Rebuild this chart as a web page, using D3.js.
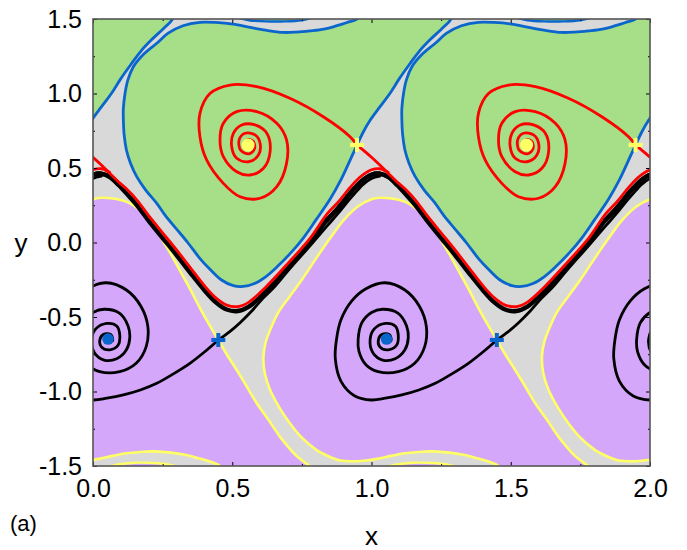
<!DOCTYPE html>
<html>
<head>
<meta charset="utf-8">
<script src="https://cdn.jsdelivr.net/npm/d3@7"></script>
<style>
body { margin: 0; background: #fff; }
text { font-family: "Liberation Sans", Arial, sans-serif; }
</style>
</head>
<body>
<div id="chart"></div>
<script>
// one period of the phase portrait (x is periodic with period 1)
var periods = [-1, 0, 1, 2];

var xTicks = [0, 0.5, 1, 1.5, 2];
var xMinor = [0.25, 0.75, 1.25, 1.75];
var yTicks = [-1.5, -1, -0.5, 0, 0.5, 1, 1.5];
var yMinor = [-1.25, -0.75, -0.25, 0.25, 0.75, 1.25];

// blue separatrix bounding the green basin
var blueEdge = [[0.955,1.52],[0.948,1.5],[0.91,1.475],[0.876,1.455],[0.83,1.432],[0.779,1.42],[0.73,1.412],
  [0.682,1.41],[0.62,1.425],[0.564,1.444],[0.503,1.466],[0.44,1.477],[0.384,1.478],[0.323,1.455],
  [0.27,1.405],[0.229,1.337],[0.18,1.26],[0.145,1.18],[0.125,1.09],[0.115,1.0],[0.109,0.9],[0.109,0.822],
  [0.112,0.72],[0.12,0.621],[0.135,0.53],[0.157,0.442],[0.19,0.35],[0.229,0.263],[0.26,0.18],[0.30,0.09],
  [0.34,0.0],[0.385,-0.11],[0.42,-0.18],[0.46,-0.25],[0.504,-0.29],[0.54,-0.295],[0.58,-0.275],[0.62,-0.23],
  [0.66,-0.165],[0.71,-0.07],[0.755,0.03],[0.80,0.15],[0.851,0.29],[0.89,0.42],[0.92,0.54],[0.948,0.654],
  [0.97,0.74],[0.995,0.82],[1.03,0.91],[1.066,1.0],[1.10,1.1],[1.138,1.2],[1.17,1.28],[1.21,1.36],
  [1.25,1.43],[1.282,1.49],[1.29,1.52]];
var blueLens = [[0.52,1.51],[0.56,1.492],[0.62,1.484],[0.69,1.484],[0.75,1.492],[0.79,1.51]];

// yellow separatrix bounding the purple basin
var yellowEdge = [[0.46,-1.52],[0.455,-1.5],[0.42,-1.47],[0.383,-1.45],[0.33,-1.425],[0.28,-1.41],
  [0.22,-1.402],[0.18,-1.404],[0.12,-1.415],[0.07,-1.432],[0.02,-1.452],[-0.03,-1.465],[-0.08,-1.468],
  [-0.12,-1.46],[-0.16,-1.43],[-0.197,-1.393],[-0.25,-1.31],[-0.293,-1.213],[-0.33,-1.11],[-0.364,-0.99],
  [-0.383,-0.88],[-0.388,-0.766],[-0.38,-0.67],[-0.364,-0.587],[-0.335,-0.47],[-0.293,-0.36],[-0.25,-0.25],
  [-0.20,-0.11],[-0.152,0.02],[-0.10,0.15],[-0.05,0.24],[0.0,0.29],[0.03,0.30],[0.065,0.297],[0.10,0.285],
  [0.133,0.263],[0.17,0.215],[0.205,0.151],[0.23,0.08],[0.255,0.0],[0.28,-0.08],[0.31,-0.18],[0.345,-0.30],
  [0.384,-0.44],[0.42,-0.56],[0.45,-0.654],[0.48,-0.75],[0.516,-0.856],[0.55,-0.96],[0.588,-1.079],
  [0.63,-1.19],[0.671,-1.303],[0.70,-1.37],[0.735,-1.44],[0.778,-1.5],[0.79,-1.52]];
var yellowLens = [[0.05,-1.51],[0.09,-1.49],[0.15,-1.478],[0.22,-1.48],[0.27,-1.49],[0.31,-1.51]];

// black rotating band and the black separatrix joining it
var blackBand = [[-0.16,0.15],[-0.12,0.23],[-0.09,0.30],[-0.06,0.365],[-0.03,0.42],[0.0,0.455],[0.03,0.462],
  [0.06,0.44],[0.09,0.39],[0.12,0.33],[0.16,0.245],[0.20,0.145],[0.25,0.03],[0.30,-0.085],[0.35,-0.205],
  [0.40,-0.32],[0.44,-0.40],[0.48,-0.45],[0.52,-0.46],[0.56,-0.43],[0.62,-0.33],[0.70,-0.17],[0.78,0.0],
  [0.84,0.15],[0.88,0.23],[0.91,0.30],[0.94,0.365],[0.97,0.42],[1.0,0.455],[1.03,0.462],[1.06,0.44],[1.09,0.39]];
var blackOut = [[0.45,-0.654],[0.49,-0.60],[0.53,-0.535],[0.57,-0.46],[0.61,-0.375],[0.65,-0.30],[0.70,-0.19],
  [0.78,-0.02],[0.84,0.11],[0.88,0.195],[0.91,0.265],[0.94,0.33],[0.97,0.39],[1.0,0.43],[1.03,0.445]];
var blackSpiral = [[0.45,-0.654],[0.40,-0.735],[0.348,-0.811],[0.29,-0.88],[0.229,-0.945],[0.17,-0.99],
  [0.109,-1.023],[0.05,-1.045],[0.0,-1.057],[-0.06,-1.03],[-0.11,-0.93],[-0.13,-0.78],[-0.126,-0.654],
  [-0.11,-0.52],[-0.07,-0.39],[-0.02,-0.31],[0.048,-0.27],[0.12,-0.319],[0.173,-0.431],[0.197,-0.565],
  [0.191,-0.699],[0.155,-0.811],[0.096,-0.867],[0.024,-0.867],[-0.02,-0.82],[-0.045,-0.73],[-0.048,-0.65],
  [-0.035,-0.54],[0.0,-0.47],[0.04,-0.448],[0.096,-0.475],[0.126,-0.56],[0.132,-0.64],[0.12,-0.72],
  [0.085,-0.78],[0.04,-0.789],[0.005,-0.74],[-0.005,-0.65],[0.01,-0.58],[0.05,-0.543],[0.085,-0.56],
  [0.096,-0.62],[0.09,-0.69],[0.06,-0.72],[0.03,-0.70],[0.025,-0.65],[0.04,-0.615],[0.065,-0.62],
  [0.07,-0.66],[0.054,-0.648]];

// red spiral and red separatrix
var redSpiral = [[0.948,0.654],[0.923,0.71],[0.827,0.844],[0.707,0.968],[0.588,1.046],[0.492,1.057],
  [0.42,1.0],[0.384,0.867],[0.384,0.71],[0.408,0.554],[0.468,0.397],[0.528,0.307],[0.6,0.297],[0.66,0.375],
  [0.695,0.531],[0.695,0.688],[0.66,0.8],[0.588,0.878],[0.516,0.878],[0.468,0.8],[0.456,0.688],[0.468,0.576],
  [0.516,0.475],[0.564,0.453],[0.612,0.498],[0.636,0.61],[0.624,0.733],[0.582,0.789],[0.534,0.789],
  [0.504,0.733],[0.498,0.643],[0.516,0.565],[0.558,0.542],[0.594,0.587],[0.6,0.666],[0.582,0.722],
  [0.546,0.733],[0.525,0.69],[0.53,0.62],[0.56,0.595],[0.58,0.63],[0.575,0.68],[0.555,0.69],[0.545,0.66],
  [0.557,0.654]];
var redOut = [[-0.052,0.654],[-0.02,0.605],[0.0,0.572],[0.03,0.52],[0.06,0.465],[0.09,0.41],[0.12,0.36],
  [0.16,0.28],[0.20,0.18],[0.25,0.065],[0.30,-0.05],[0.35,-0.17],[0.40,-0.29],[0.44,-0.37],[0.48,-0.42],
  [0.52,-0.43],[0.56,-0.40],[0.62,-0.30],[0.70,-0.14],[0.78,0.03],[0.84,0.19],[0.88,0.27],[0.91,0.34],
  [0.94,0.405],[0.97,0.455],[1.0,0.488],[1.03,0.495],[1.06,0.47]];

// fixed points
var focusTop = [[0.557, 0.654]];
var saddleTop = [[0.948, 0.654]];
var focusBot = [[0.054, -0.648]];
var saddleBot = [[0.45, -0.654]];

var W = 687, H = 550;
var svg = d3.select("#chart").append("svg")
  .attr("width", W)
  .attr("height", H);

var x = d3.scaleLinear().domain([0, 2]).range([93, 650]);
var y = d3.scaleLinear().domain([-1.5, 1.5]).range([466, 19]);

svg.append("clipPath").attr("id", "clip")
  .append("rect")
  .attr("x", x(0)).attr("y", y(1.5))
  .attr("width", x(2) - x(0)).attr("height", y(-1.5) - y(1.5));

var plot = svg.append("g").attr("clip-path", "url(#clip)");

plot.append("rect")
  .attr("x", x(0)).attr("y", y(1.5))
  .attr("width", x(2) - x(0)).attr("height", y(-1.5) - y(1.5))
  .attr("fill", "#d9d9d9");

function line(k) {
  return d3.line()
    .x(function(d) { return x(d[0] + k); })
    .y(function(d) { return y(d[1]); })
    .curve(d3.curveCatmullRom.alpha(0.5));
}

var green = "#a6df88", purple = "#d4a7fa", blue = "#0a66cc", yellow = "#ffff66";

// filled basins
periods.forEach(function(k) {
  plot.append("path").attr("d", line(k)(blueEdge) + "Z").attr("fill", green);
  plot.append("path").attr("d", line(k)(blueLens) + "Z").attr("fill", green);
  plot.append("path").attr("d", line(k)(yellowEdge) + "Z").attr("fill", purple);
  plot.append("path").attr("d", line(k)(yellowLens) + "Z").attr("fill", purple);
});

function stroke(data, k, color, w) {
  plot.append("path")
    .attr("d", line(k)(data))
    .attr("fill", "none")
    .attr("stroke", color)
    .attr("stroke-width", w)
    .attr("stroke-linecap", "round")
    .attr("stroke-linejoin", "round");
}

periods.forEach(function(k) {
  stroke(blueEdge, k, blue, 2.8);
  stroke(blueLens, k, blue, 2.4);
  stroke(yellowEdge, k, yellow, 2.6);
  stroke(yellowLens, k, yellow, 2.4);
});

periods.forEach(function(k) {
  stroke(blackBand, k, "#000", 4.4);
  stroke(blackOut, k, "#000", 2.8);
  stroke(blackSpiral, k, "#000", 2.8);
  stroke(redOut, k, "#ff0000", 2.8);
  stroke(redSpiral, k, "#ff0000", 2.8);
});

// markers
function dots(data, color, r) {
  periods.forEach(function(k) {
    plot.selectAll(null).data(data).enter().append("circle")
      .attr("cx", function(d) { return x(d[0] + k); })
      .attr("cy", function(d) { return y(d[1]); })
      .attr("r", r)
      .attr("fill", color);
  });
}
function crosses(data, color) {
  periods.forEach(function(k) {
    plot.selectAll(null).data(data).enter().append("path")
      .attr("d", function(d) {
        var cx = x(d[0] + k), cy = y(d[1]);
        return "M" + (cx - 7) + "," + cy + "H" + (cx + 7) + "M" + cx + "," + (cy - 7) + "V" + (cy + 7);
      })
      .attr("stroke", color)
      .attr("stroke-width", 4);
  });
}
dots(focusTop, yellow, 6.5);
crosses(saddleTop, yellow);
dots(focusBot, blue, 5.8);
crosses(saddleBot, blue);

// axes: inward ticks on all four sides
var fmt = function(d) { return d.toFixed(1); };
function styleAxis(g) {
  g.select(".domain").remove();
  g.selectAll("line").attr("stroke", "#000");
  g.selectAll("text").attr("font-size", 25).attr("fill", "#000");
}
svg.append("g").attr("transform", "translate(0," + y(-1.5) + ")")
  .call(d3.axisBottom(x).tickValues(xTicks).tickFormat(fmt).tickSizeInner(-4).tickSizeOuter(0).tickPadding(13))
  .call(styleAxis);
svg.append("g").attr("transform", "translate(" + x(0) + ",0)")
  .call(d3.axisLeft(y).tickValues(yTicks).tickFormat(fmt).tickSizeInner(-4).tickSizeOuter(0).tickPadding(11))
  .call(styleAxis);
svg.append("g").attr("transform", "translate(0," + y(1.5) + ")")
  .call(d3.axisTop(x).tickValues(xTicks).tickFormat("").tickSizeInner(-4).tickSizeOuter(0))
  .call(styleAxis);
svg.append("g").attr("transform", "translate(" + x(2) + ",0)")
  .call(d3.axisRight(y).tickValues(yTicks).tickFormat("").tickSizeInner(-4).tickSizeOuter(0))
  .call(styleAxis);
svg.append("g").attr("transform", "translate(0," + y(-1.5) + ")")
  .call(d3.axisBottom(x).tickValues(xMinor).tickFormat("").tickSizeInner(-2).tickSizeOuter(0))
  .call(styleAxis);
svg.append("g").attr("transform", "translate(0," + y(1.5) + ")")
  .call(d3.axisTop(x).tickValues(xMinor).tickFormat("").tickSizeInner(-2).tickSizeOuter(0))
  .call(styleAxis);
svg.append("g").attr("transform", "translate(" + x(0) + ",0)")
  .call(d3.axisLeft(y).tickValues(yMinor).tickFormat("").tickSizeInner(-2).tickSizeOuter(0))
  .call(styleAxis);
svg.append("g").attr("transform", "translate(" + x(2) + ",0)")
  .call(d3.axisRight(y).tickValues(yMinor).tickFormat("").tickSizeInner(-2).tickSizeOuter(0))
  .call(styleAxis);

svg.append("rect")
  .attr("x", x(0)).attr("y", y(1.5))
  .attr("width", x(2) - x(0)).attr("height", y(-1.5) - y(1.5))
  .attr("fill", "none")
  .attr("stroke", "#555")
  .attr("stroke-width", 1.6);

svg.append("text")
  .attr("x", (x(0) + x(2)) / 2).attr("y", 545)
  .attr("text-anchor", "middle")
  .attr("font-size", 26)
  .text("x");
svg.append("text")
  .attr("x", 21).attr("y", y(0) + 9)
  .attr("text-anchor", "middle")
  .attr("font-size", 26)
  .text("y");
svg.append("text")
  .attr("x", 10).attr("y", 531)
  .attr("font-size", 22)
  .text("(a)");
</script>
</body>
</html>
